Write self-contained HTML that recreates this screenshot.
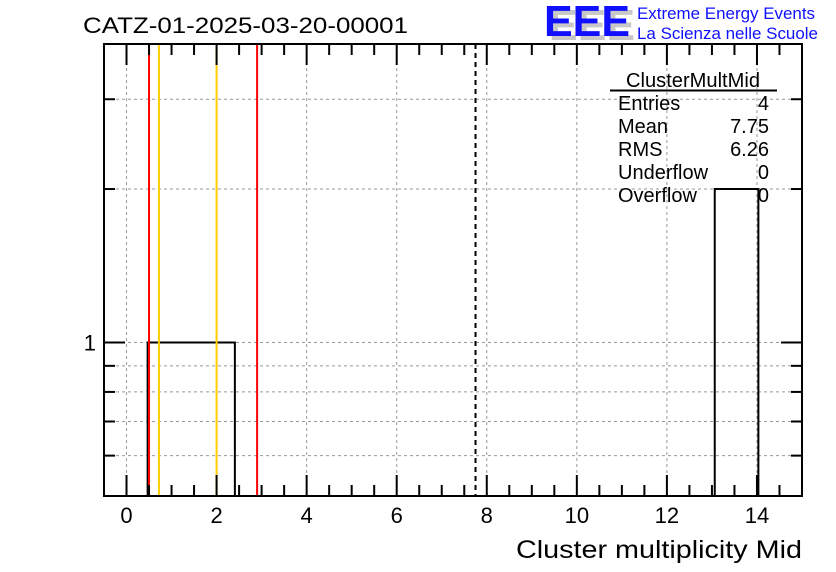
<!DOCTYPE html>
<html><head><meta charset="utf-8"><style>
body{margin:0;background:#fff}
svg{display:block;font-family:"Liberation Sans",sans-serif}
</style></head><body>
<svg id="c" width="836" height="572" xmlns="http://www.w3.org/2000/svg">
<text x="83" y="33" font-size="22" textLength="325" lengthAdjust="spacingAndGlyphs">CATZ-01-2025-03-20-00001</text>
<g>
<text x="549" y="40" font-size="44" font-weight="bold" fill="#c8c8c8" textLength="86" lengthAdjust="spacingAndGlyphs">EEE</text>
<text x="544" y="36" font-size="44" font-weight="bold" fill="#1010ff" textLength="86" lengthAdjust="spacingAndGlyphs">EEE</text>
<text x="637" y="19" font-size="17" fill="#1010ff" textLength="178" lengthAdjust="spacingAndGlyphs">Extreme Energy Events</text>
<text x="637" y="39" font-size="17" fill="#1010ff" textLength="181" lengthAdjust="spacingAndGlyphs">La Scienza nelle Scuole</text>
</g>
<g id="grid"></g><g id="marks"></g><g id="axes"></g>
<g font-size="20">
<text x="693" y="87" text-anchor="middle" textLength="134" lengthAdjust="spacingAndGlyphs">ClusterMultMid</text>
<line x1="610" y1="90.5" x2="777" y2="90.5" stroke="#000" stroke-width="2"/>
<text x="618" y="110">Entries</text><text x="769" y="110" text-anchor="end">4</text>
<text x="618" y="133">Mean</text><text x="769" y="133" text-anchor="end">7.75</text>
<text x="618" y="156">RMS</text><text x="769" y="156" text-anchor="end">6.26</text>
<text x="618" y="179">Underflow</text><text x="769" y="179" text-anchor="end">0</text>
<text x="618" y="202">Overflow</text><text x="769" y="202" text-anchor="end">0</text>
</g>
<text x="802" y="558" font-size="25" text-anchor="end" textLength="286" lengthAdjust="spacingAndGlyphs">Cluster multiplicity Mid</text>
</svg>
<script>
const binIndex=[0,1,2,3,4,5,6,7,8,9,10,11,12,13,14,15];
const binValues=[0,1,1,0,0,0,0,0,0,0,0,0,0,0,2,0];
const xTicks=[0,2,4,6,8,10,12,14];
const yMajor=[1];
const yMinor=[0.6,0.7,0.8,0.9,2,3];
const redLines=[0.5,2.9];
const orangeLines=[0.72,2.0];
const meanLine=[7.75];
const L=104,R=802,T=44,B=496,X0=-0.5,X1=15,Y0=0.5,Y1=3.85;
const BW=(X1-X0)/16;
const NS="http://www.w3.org/2000/svg";
const sx=v=>L+(v-X0)/(X1-X0)*(R-L);
const sy=v=>B-(Math.log10(v)-Math.log10(Y0))/(Math.log10(Y1)-Math.log10(Y0))*(B-T);
function mk(p,t,a){const e=document.createElementNS(NS,t);for(const k in a)e.setAttribute(k,a[k]);p.appendChild(e);return e;}
const G=document.getElementById('grid'),M=document.getElementById('marks'),A=document.getElementById('axes');
xTicks.forEach(v=>{const e=mk(G,'line',{x1:sx(v),x2:sx(v),y1:T,y2:B,stroke:'#999','stroke-dasharray':'3,3'});

});
yMajor.concat(yMinor).forEach(v=>{const e=mk(G,'line',{x1:L,x2:R,y1:sy(v),y2:sy(v),stroke:'#999','stroke-dasharray':'3,3'});

});
let d='';let prev=0;
for(let i=0;i<binIndex.length;i++){const v=binValues[i];if(v>0){const xa=sx(X0+binIndex[i]*BW),xb=sx(X0+(binIndex[i]+1)*BW);
 if(prev>0){d+=`L${xa},${sy(v)}L${xb},${sy(v)}`;}else{d+=`M${xa},${B}L${xa},${sy(v)}L${xb},${sy(v)}`;}
 const nx=binValues[i+1]||0; if(!(nx>0)) d+=`L${xb},${B}`;}
 prev=v;}
const h=mk(M,'path',{d:d,fill:'none',stroke:'#000','stroke-width':2});


redLines.forEach(v=>{const e=mk(M,'line',{x1:sx(v),x2:sx(v),y1:T,y2:B,stroke:'#ff0000','stroke-width':2});

});
orangeLines.forEach(v=>{const e=mk(M,'line',{x1:sx(v),x2:sx(v),y1:T,y2:B,stroke:'#ffcc00','stroke-width':2});

});
meanLine.forEach(v=>{const e=mk(M,'line',{x1:sx(v),x2:sx(v),y1:T,y2:B,stroke:'#000','stroke-width':2,'stroke-dasharray':'5,4'});

});
const fr=mk(A,'rect',{x:L,y:T,width:R-L,height:B-T,fill:'none',stroke:'#000','stroke-width':2});


for(let v=0;v<=X1;v+=0.5){const maj=(v%2===0);const len=maj?21:11;
 mk(A,'line',{x1:sx(v),x2:sx(v),y1:B,y2:B-len,stroke:'#000','stroke-width':2});
 mk(A,'line',{x1:sx(v),x2:sx(v),y1:T,y2:T+len,stroke:'#000','stroke-width':2});}
xTicks.forEach(v=>{const t=mk(A,'text',{x:sx(v),y:523,'font-size':22,'text-anchor':'middle'});t.textContent=v;

});
yMajor.forEach(v=>{mk(A,'line',{x1:L,x2:L+21,y1:sy(v),y2:sy(v),stroke:'#000','stroke-width':2});
 mk(A,'line',{x1:R,x2:R-21,y1:sy(v),y2:sy(v),stroke:'#000','stroke-width':2});
 const t=mk(A,'text',{x:96,y:sy(v)+8,'font-size':22,'text-anchor':'end'});t.textContent=v;
 
 });
yMinor.forEach(v=>{mk(A,'line',{x1:L,x2:L+11,y1:sy(v),y2:sy(v),stroke:'#000','stroke-width':2});
 mk(A,'line',{x1:R,x2:R-11,y1:sy(v),y2:sy(v),stroke:'#000','stroke-width':2});});
</script>
</body></html>
